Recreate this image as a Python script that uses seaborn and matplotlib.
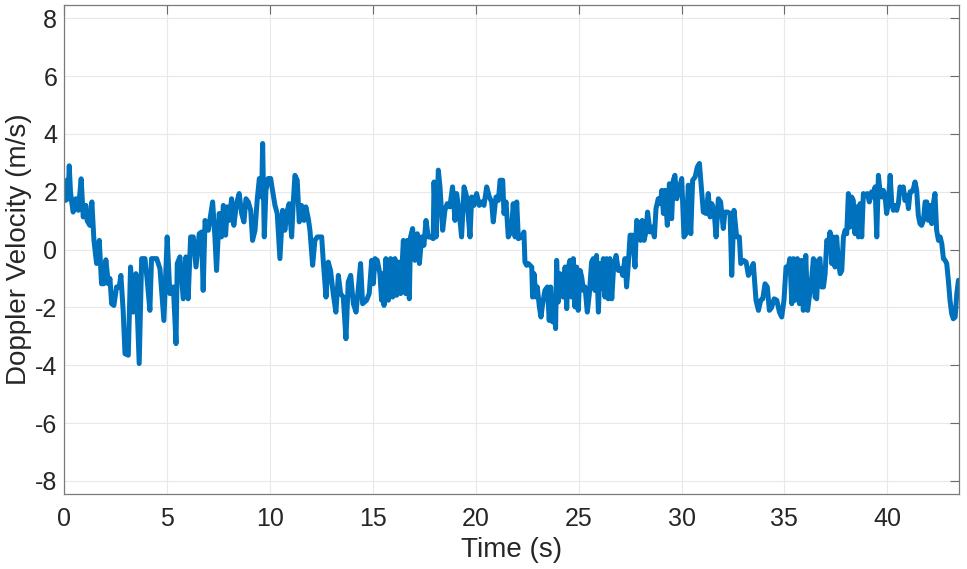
import numpy as np
import pandas as pd
import matplotlib
matplotlib.use("Agg")
import matplotlib.pyplot as plt
import seaborn as sns

# ---- data (time in s, Doppler velocity in m/s) ----
time_s = [
    0.00, 0.05, 0.12, 0.18, 0.24, 0.30, 0.35, 0.43, 0.56, 0.68, 0.82, 0.92, 1.05, 1.11, 1.24,
    1.34, 1.44, 1.57, 1.70, 1.81, 1.92, 2.02, 2.14, 2.22, 2.30, 2.41, 2.54, 2.67, 2.75, 2.86,
    2.95, 3.11, 3.22, 3.35, 3.48, 3.64, 3.76, 3.92, 4.03, 4.16, 4.24, 4.49, 4.65, 4.84, 5.00,
    5.13, 5.30, 5.43, 5.49, 5.62, 5.78, 5.91, 6.02, 6.14, 6.27, 6.40, 6.56, 6.67, 6.75, 6.84,
    7.00,
    7.21, 7.32, 7.40, 7.53, 7.64, 7.73, 7.84, 7.92, 8.02, 8.13, 8.24, 8.37, 8.50, 8.62, 8.73,
    8.83, 8.94, 9.06, 9.15, 9.27, 9.38, 9.48, 9.59, 9.64, 9.72, 9.80, 9.91, 10.03, 10.12, 10.24,
    10.35, 10.48, 10.61, 10.72, 10.84, 10.93, 11.05, 11.13, 11.21, 11.32, 11.42, 11.53, 11.65,
    11.74, 11.86, 11.94, 12.07, 12.18, 12.30, 12.51, 12.59, 12.72, 12.83, 12.94, 13.07, 13.20,
    13.32, 13.43, 13.56, 13.69, 13.80, 13.92, 14.05, 14.18, 14.29, 14.40, 14.50,
    14.69, 14.82, 14.94, 15.02, 15.10, 15.21, 15.34, 15.42, 15.47, 15.54, 15.63, 15.75, 15.86,
    15.96, 16.07, 16.15, 16.28, 16.35, 16.48, 16.59, 16.67, 16.77, 16.83, 16.93, 17.04, 17.16,
    17.26, 17.37, 17.48, 17.58, 17.69, 17.80, 17.93, 17.97, 18.07, 18.18, 18.26, 18.39, 18.50,
    18.61, 18.74, 18.87, 18.99, 19.07, 19.20, 19.31, 19.43, 19.56, 19.72, 19.80, 19.91, 20.04,
    20.17, 20.29, 20.40, 20.53, 20.66, 20.77, 20.85, 20.98, 21.10, 21.18, 21.31, 21.37, 21.47,
    21.58,
    21.74, 21.82, 21.91, 21.99, 22.07, 22.23, 22.34, 22.39, 22.47, 22.55, 22.72, 22.76, 22.83,
    22.93, 22.99, 23.09, 23.17, 23.25, 23.36, 23.48, 23.57, 23.64, 23.74, 23.80, 23.88, 23.93,
    24.01, 24.09, 24.17, 24.25, 24.34, 24.42, 24.50, 24.58, 24.66, 24.74, 24.82, 24.90, 24.98,
    25.07, 25.15, 25.23, 25.31, 25.42, 25.52, 25.63, 25.71, 25.79, 25.87, 25.96, 26.04, 26.12,
    26.20, 26.28, 26.36, 26.44, 26.52, 26.61, 26.69, 26.82, 26.93, 27.06, 27.14, 27.25, 27.33,
    27.41, 27.50, 27.62, 27.74, 27.82, 27.93, 28.01, 28.09, 28.18, 28.27, 28.35, 28.47, 28.58,
    28.68, 28.76, 28.87, 28.98,
    29.04, 29.12, 29.20, 29.31, 29.41, 29.52, 29.60, 29.68, 29.77, 29.89, 30.01, 30.12, 30.22,
    30.33, 30.45, 30.54, 30.66, 30.77, 30.87, 30.98, 31.06, 31.19, 31.30, 31.39, 31.47, 31.58,
    31.68, 31.79, 31.90, 32.03, 32.11, 32.24, 32.36, 32.44, 32.55, 32.68, 32.81, 32.88, 33.01,
    33.14, 33.25, 33.36, 33.49, 33.62, 33.74, 33.85, 33.95, 34.06, 34.17, 34.27, 34.38, 34.50,
    34.63, 34.76, 34.87, 34.98, 35.08, 35.19, 35.27, 35.36, 35.44, 35.52, 35.63, 35.73, 35.84,
    35.92, 36.04, 36.13,
    36.33, 36.41, 36.49, 36.57, 36.65, 36.73, 36.81, 36.90, 36.98, 37.06, 37.14, 37.22, 37.30,
    37.38, 37.46, 37.54, 37.62, 37.71, 37.79, 37.87, 37.95, 38.03, 38.11, 38.19, 38.27, 38.35,
    38.43, 38.52, 38.60, 38.68, 38.76, 38.84, 38.92, 39.03, 39.13, 39.24, 39.33, 39.41, 39.49,
    39.57, 39.65, 39.73, 39.81, 39.89, 39.97, 40.05, 40.14, 40.22, 40.30, 40.38, 40.46, 40.54,
    40.62, 40.70, 40.78, 40.86, 40.95, 41.03, 41.11, 41.19, 41.27, 41.35, 41.43, 41.51, 41.59,
    41.67, 41.76, 41.84, 41.92, 42.00, 42.08, 42.16, 42.24, 42.32, 42.40, 42.49, 42.57, 42.65,
    42.73, 42.81, 42.89, 42.97, 43.05, 43.13, 43.21, 43.30, 43.38, 43.46, 43.54,
]

doppler_ms = [
    2.20, 1.70, 2.40, 1.75, 2.90, 2.00, 1.70, 1.30, 1.76, 1.36, 2.45, 1.13, 1.53, 1.00, 0.84,
    1.65, 0.32, -0.48, 0.32, -1.18, -1.18, -0.35, -1.18, -1.00, -1.87, -1.93, -1.29, -1.29, -0.89, -2.10,
    -3.60, -3.65, -0.60, -2.16, -0.83, -3.94, -0.31, -0.31, -1.06, -2.10, -0.31, -0.31, -0.66, -2.45, 0.44,
    -1.52, -1.29, -3.25, -0.48, -0.25, -1.70, -0.25, -1.70, 0.44, 0.44, -0.60, 0.55, 0.61, -1.41, 1.01,
    0.67,
    1.65, 0.44, -0.72, 1.25, 0.44, 1.53, 0.50, 1.48, 1.01, 1.76, 0.84, 1.59, 1.94, 1.25, 0.96,
    1.76, 1.65, 1.36, 0.32, 0.67, 1.76, 2.46, 1.82, 3.67, 0.44, 2.05, 2.46, 2.46, 2.05, 1.53,
    1.25, -0.31, 1.36, 0.67, 1.36, 1.59, 0.44, 1.65, 2.57, 2.40, 0.96, 1.53, 1.01,
    1.48, 1.07, 0.67, -0.54, 0.32, 0.44, 0.44, -0.43, -1.64, -0.43, -0.72, -1.52, -2.16,
    -0.89, -1.52, -1.64, -3.08, -1.12, -0.89, -1.87, -2.16, -1.35, -0.48, -1.87,
    -1.75, -1.52, -0.37, -1.18, -0.31, -0.37, -0.83, -1.75, -0.83, -1.93, -0.31, -1.75, -0.31,
    -1.64, -0.31, -1.58, -0.43, -1.52, 0.32, -1.52, 0.32, -1.70, 0.44, 0.73, -0.37, 0.55,
    -0.48, 0.44, 0.15, 1.01, 0.44, 0.44, 0.38, 2.34, 0.44, 2.75, 2.17, 0.67, 1.36,
    1.59, 1.48, 2.17, 1.01, 1.94, 1.25, 0.44, 2.17, 1.82, 0.44, 1.82, 1.53, 1.94,
    1.53, 1.65, 1.53, 2.17, 1.82, 1.65, 0.96, 1.82, 1.70, 2.40, 2.40, 1.25, 1.65,
    0.44,
    0.67, 1.59, 0.44, 1.65, 0.38, 0.44, 0.61, -0.43, -0.54, -0.48, -0.60, -1.64, -0.83,
    -1.64, -1.29, -1.98, -2.33, -1.87, -1.41, -1.29, -2.45, -1.29, -2.50, -1.87, -2.73, -0.37,
    -1.81, -0.83, -1.00, -1.64, -0.60, -2.04, -0.60, -0.37, -1.64, -0.31, -1.98, -0.60, -2.10,
    -0.72, -0.95, -1.41, -1.29, -2.16, -1.52, -0.43, -0.31, -1.41, -0.20, -2.16, -0.48, -1.35,
    -0.31, -1.64, -0.31, -1.70, -0.31, -1.70, -0.72, -0.20, -0.72, -0.66, -0.89, -0.31, -1.29,
    -0.54, 0.50, 0.50, -0.60, 1.01, 0.90, 0.32, 1.01, 0.32, 0.61, 1.30, 0.61, 0.78,
    0.44, 1.42, 1.76, 1.59,
    2.05, 1.25, 2.05, 0.84, 2.28, 1.07, 2.40, 2.57, 1.76, 2.11, 2.46, 0.44, 0.55,
    2.23, 0.55, 2.40, 2.51, 2.86, 2.98, 2.00, 1.30, 1.25, 1.94, 1.13, 1.59, 1.36,
    0.44, 1.76, 1.65, 0.73, 1.30, 1.30, 1.25, -0.89, 1.36, 0.44, 0.44, -0.48, -0.37,
    -0.43, -0.89, -0.72, -0.48, -1.75, -2.10, -1.75, -1.70, -1.18, -1.29, -2.10, -2.00, -1.70,
    -1.75, -2.16, -2.33, -1.75, -0.60, -0.60, -0.31, -1.87, -0.31, -1.75, -0.31, -1.87, -0.37,
    -2.10, -0.20, -2.10,
    -0.95, -0.31, -1.64, -1.70, -0.37, -0.31, -1.29, -1.29, -0.83, 0.32, 0.21, 0.61, -0.48,
    0.44, -0.60, 0.44, -0.37, -0.83, -0.72, 0.44, 0.67, 0.55, 1.94, 0.78, 1.82, 1.70,
    0.55, 1.48, 0.44, 1.59, 0.44, 1.94, 1.88, 1.94, 1.65, 2.00, 1.82, 2.17, 0.44,
    2.57, 2.00, 1.82, 2.05, 1.88, 1.25, 1.59, 2.57, 1.59, 1.36, 1.53, 1.36, 1.59,
    2.17, 2.11, 2.17, 1.70, 1.88, 1.42, 2.00, 2.00, 2.11, 2.34, 2.05, 1.19, 0.90,
    0.84, 1.01, 1.65, 1.65, 1.01, 1.53, 0.90, 1.59, 1.94, 0.67, 0.32, 0.44, 0.21,
    -0.31, -0.37, -0.48, -1.06, -1.75, -2.21, -2.39, -2.33, -1.52, -1.06, -1.18,
]

df = pd.DataFrame({"Time (s)": time_s, "Doppler Velocity (m/s)": doppler_ms})

x_ticks = [0, 5, 10, 15, 20, 25, 30, 35, 40]
y_ticks = [-8, -6, -4, -2, 0, 2, 4, 6, 8]

sns.set_theme(style="white")
plt.rcParams["font.family"] = ["Liberation Sans", "DejaVu Sans"]

fig = plt.figure(figsize=(9.67, 5.69), dpi=100)
ax = fig.add_axes([0.0665, 0.1318, 0.9255, 0.8589])

sns.lineplot(data=df, x="Time (s)", y="Doppler Velocity (m/s)", ax=ax,
             color="#0072BD", linewidth=3.6, sort=False, estimator=None)

ax.set_xlim(0, 43.5)
ax.set_ylim(-8.45, 8.45)
ax.set_xticks(x_ticks)
ax.set_yticks(y_ticks)
ax.set_xticklabels([str(v) for v in x_ticks])
ax.set_yticklabels([str(v) for v in y_ticks])

ax.grid(True, color="#e8e8e8", linewidth=0.8)
ax.set_axisbelow(True)
for s in ax.spines.values():
    s.set_visible(True)
    s.set_color("#7a7a7a")
    s.set_linewidth(0.9)

ax.tick_params(axis="both", which="both", direction="in", length=6.5, width=0.8,
               color="#6a6a6a", labelsize=18, labelcolor="#262626",
               top=True, right=True)
ax.tick_params(axis="x", pad=9)
ax.tick_params(axis="y", pad=5)

ax.set_xlabel("Time (s)", fontsize=20, color="#262626", labelpad=5)
ax.set_ylabel("Doppler Velocity (m/s)", fontsize=20, color="#262626", labelpad=2)

fig.savefig("out.png", dpi=100, facecolor="white")
